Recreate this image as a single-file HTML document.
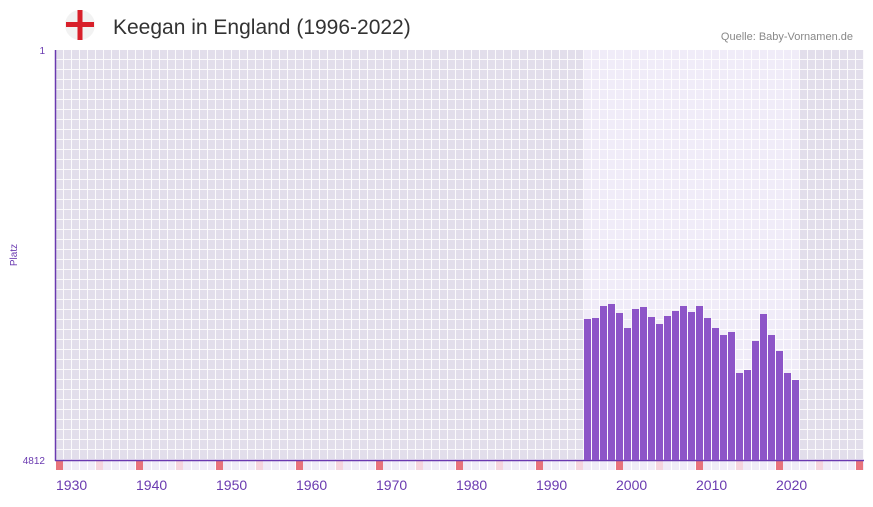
<!DOCTYPE html><html><head><meta charset="utf-8"><style>body{margin:0;background:#fff;font-family:"Liberation Sans",sans-serif}</style></head><body>
<svg width="873" height="502" xmlns="http://www.w3.org/2000/svg" font-family="Liberation Sans, sans-serif">
<defs>
<pattern id="g" x="56" y="50" width="8" height="10" patternUnits="userSpaceOnUse"><path d="M7.5 0V10M0 9.5H8" stroke="#fff" stroke-opacity="0.85" stroke-width="1" fill="none"/></pattern>
</defs>
<circle cx="80" cy="25" r="15" fill="#f2f2f2"/>
<rect x="66" y="22" width="28" height="5" fill="#d8202a"/><rect x="77.5" y="10" width="5" height="30" fill="#d8202a"/>
<text x="113" y="34" font-size="21" fill="#333">Keegan in England (1996-2022)</text>
<text x="853" y="40" font-size="11" fill="#888" text-anchor="end">Quelle: Baby-Vornamen.de</text>
<rect x="56" y="50" width="808" height="410" fill="#e2deeb"/>
<rect x="584" y="50" width="215" height="410" fill="#f0ecf8"/>
<rect x="56" y="50" width="808" height="410" fill="url(#g)"/>
<rect x="56" y="461" width="808" height="9" fill="#f0ecf8"/>
<g id="strip"></g>
<line x1="55.5" y1="50" x2="55.5" y2="461" stroke="#6a3ab0" stroke-width="1.5"/>
<line x1="55" y1="460.5" x2="864" y2="460.5" stroke="#6a3ab0" stroke-width="1.5"/>
<g fill="#6a3ab0" font-size="10"><text x="45" y="54" text-anchor="end">1</text><text x="45" y="464" text-anchor="end">4812</text>
<text transform="translate(17,255) rotate(-90)" text-anchor="middle">Platz</text></g>
<g id="bars" fill="#8d55c8"></g>
<g fill="#6a3ab0" font-size="14" id="lab"></g>
</svg>
<script>
var ns="http://www.w3.org/2000/svg";
function el(p,t,a,txt){var e=document.createElementNS(ns,t);for(var k in a)e.setAttribute(k,a[k]);if(txt)e.textContent=txt;p.appendChild(e);}
var s=document.getElementById('strip');
for(var y=1930;y<2031;y++){var x=56+(y-1930)*8;
 if(y%10==0)el(s,'rect',{x:x,y:461,width:7,height:9,fill:'#e8747c'});
 else if(y%5==0)el(s,'rect',{x:x,y:461,width:7,height:9,fill:'#f5d5de'});
 else el(s,'rect',{x:x+7,y:461,width:1,height:9,fill:'#fff'});}
var tops=[319,318,306,304,313,328,309,307,317,324,316,311,306,312,306,318,328,335,332,373,370,341,314,335,351,373,380];
var b=document.getElementById('bars');
tops.forEach(function(t,i){el(b,'rect',{x:584+i*8,y:t,width:7,height:460-t});});
var l=document.getElementById('lab');
for(var y=1930;y<=2020;y+=10)el(l,'text',{x:56+(y-1930)*8,y:490},String(y));
</script>
</body></html>
